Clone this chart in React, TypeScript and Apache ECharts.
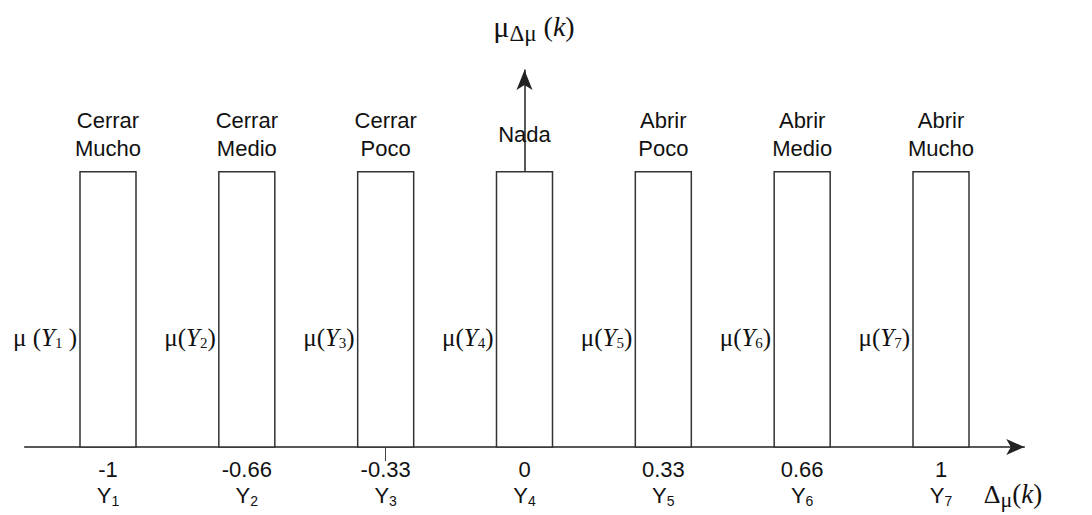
import React, { useEffect, useRef } from "react";
import * as echarts from "echarts";

// ---- data ----
const actionNames = [
  "Cerrar\nMucho",
  "Cerrar\nMedio",
  "Cerrar\nPoco",
  "Nada",
  "Abrir\nPoco",
  "Abrir\nMedio",
  "Abrir\nMucho",
];
const centers = [-1, -0.6667, -0.3333, 0, 0.3333, 0.6667, 1];
const membership = [1, 1, 1, 1, 1, 1, 1];
const tickLabels = ["-1", "-0.66", "-0.33", "0", "0.33", "0.66", "1"];
const setIndex = ["1", "2", "3", "4", "5", "6", "7"];
const muPrefix = ["μ (", "μ(", "μ(", "μ(", "μ(", "μ(", "μ("];
const muSuffix = [" )", ")", ")", ")", ")", ")", ")"];
const strayTicks = [-0.3333];

const SANS = '"Liberation Sans", Arial, sans-serif';
const SERIF = '"Liberation Serif", "Times New Roman", serif';

export default function App() {
  const ref = useRef<HTMLDivElement>(null);

  useEffect(() => {
    if (!ref.current) return;
    const chart = echarts.init(ref.current, null, { renderer: "svg" });

    const data = centers.map((c, i) => [c, membership[i]]);

    const option: any = {
      animation: false,
      backgroundColor: "#fff",
      grid: { left: 24.7, right: 67.7, top: 70, bottom: 68 },
      xAxis: {
        type: "value",
        min: -1.2,
        max: 1.2,
        splitLine: { show: false },
        axisLabel: { show: false },
        axisTick: {
          show: true,
          customValues: strayTicks,
          length: 14,
          lineStyle: { color: "#444", width: 1 },
        },
        axisLine: {
          show: true,
          onZero: true,
          symbol: ["none", "arrow"],
          symbolSize: [12, 18],
          lineStyle: { color: "#222", width: 1.5 },
        },
      },
      yAxis: {
        type: "value",
        min: 0,
        max: 1.37,
        splitLine: { show: false },
        axisLabel: { show: false },
        axisTick: { show: false },
        axisLine: {
          show: true,
          onZero: true,
          symbol: ["none", "arrow"],
          symbolSize: [12, 20],
          lineStyle: { color: "#222", width: 1.5 },
        },
      },
      series: [
        {
          type: "custom",
          data,
          z: 3,
          renderItem: (params: any, api: any) => {
            const i = params.dataIndex;
            const x = api.value(0);
            const v = api.value(1);
            const base = api.coord([x, 0]);
            const top = api.coord([x, v]);
            const cx = base[0];
            const w = 56;
            return {
              type: "group",
              children: [
                {
                  type: "rect",
                  shape: { x: cx - w / 2, y: top[1], width: w, height: base[1] - top[1] },
                  style: { fill: "#fff", stroke: "#333", lineWidth: 1.5 },
                },
                {
                  type: "text",
                  x: cx,
                  y: top[1] - 37,
                  style: {
                    text: actionNames[i],
                    fontFamily: SANS,
                    fontSize: 22,
                    lineHeight: 28,
                    fill: "#111",
                    align: "center",
                    verticalAlign: "middle",
                  },
                },
                {
                  type: "text",
                  x: cx - w / 2 - 3,
                  y: base[1] - 110,
                  style: {
                    text: `{m|${muPrefix[i]}}{y|Y}{s|${setIndex[i]}}{m|${muSuffix[i]}}`,
                    fill: "#111",
                    align: "right",
                    verticalAlign: "middle",
                    rich: {
                      m: { fontFamily: SERIF, fontSize: 25, fill: "#111" },
                      y: { fontFamily: SERIF, fontSize: 25, fontStyle: "italic", fill: "#111" },
                      s: { fontFamily: SERIF, fontSize: 15, fill: "#111", padding: [12, 0, 0, 0] },
                    },
                  },
                },
                {
                  type: "text",
                  x: cx,
                  y: base[1] + 22,
                  style: {
                    text: tickLabels[i],
                    fontFamily: SANS,
                    fontSize: 22,
                    fill: "#111",
                    align: "center",
                    verticalAlign: "middle",
                  },
                },
                {
                  type: "text",
                  x: cx,
                  y: base[1] + 48,
                  style: {
                    text: `{y|Y}{s|${setIndex[i]}}`,
                    fill: "#111",
                    align: "center",
                    verticalAlign: "middle",
                    rich: {
                      y: { fontFamily: SANS, fontSize: 22, fill: "#111" },
                      s: { fontFamily: SANS, fontSize: 14, fill: "#111", padding: [12, 0, 0, 0] },
                    },
                  },
                },
              ],
            };
          },
        },
      ],
      graphic: [
        {
          type: "text",
          x: 534,
          y: 26,
          z: 10,
          style: {
            text: "{m|μ}{s|Δμ}{p| (}{k|k}{p|)}",
            fill: "#111",
            align: "center",
            verticalAlign: "middle",
            rich: {
              m: { fontFamily: SERIF, fontSize: 30, fill: "#111" },
              s: { fontFamily: SERIF, fontSize: 23, fill: "#111", padding: [14, 0, 0, 0] },
              p: { fontFamily: SERIF, fontSize: 28, fill: "#111" },
              k: { fontFamily: SERIF, fontSize: 28, fontStyle: "italic", fill: "#111" },
            },
          },
        },
        {
          type: "text",
          x: 1013,
          y: 494,
          z: 10,
          style: {
            text: "{d|Δ}{s|μ}{p|(}{k|k}{p|)}",
            fill: "#111",
            align: "center",
            verticalAlign: "middle",
            rich: {
              d: { fontFamily: SERIF, fontSize: 26, fill: "#111" },
              s: { fontFamily: SERIF, fontSize: 22, fill: "#111", padding: [10, 0, 0, 0] },
              p: { fontFamily: SERIF, fontSize: 27, fill: "#111" },
              k: { fontFamily: SERIF, fontSize: 27, fontStyle: "italic", fill: "#111" },
            },
          },
        },
      ],
    };

    chart.setOption(option);
    return () => chart.dispose();
  }, []);

  return (
    <div
      ref={ref}
      style={{ position: "fixed", left: 0, top: 0, width: 1092, height: 515 }}
    />
  );
}
